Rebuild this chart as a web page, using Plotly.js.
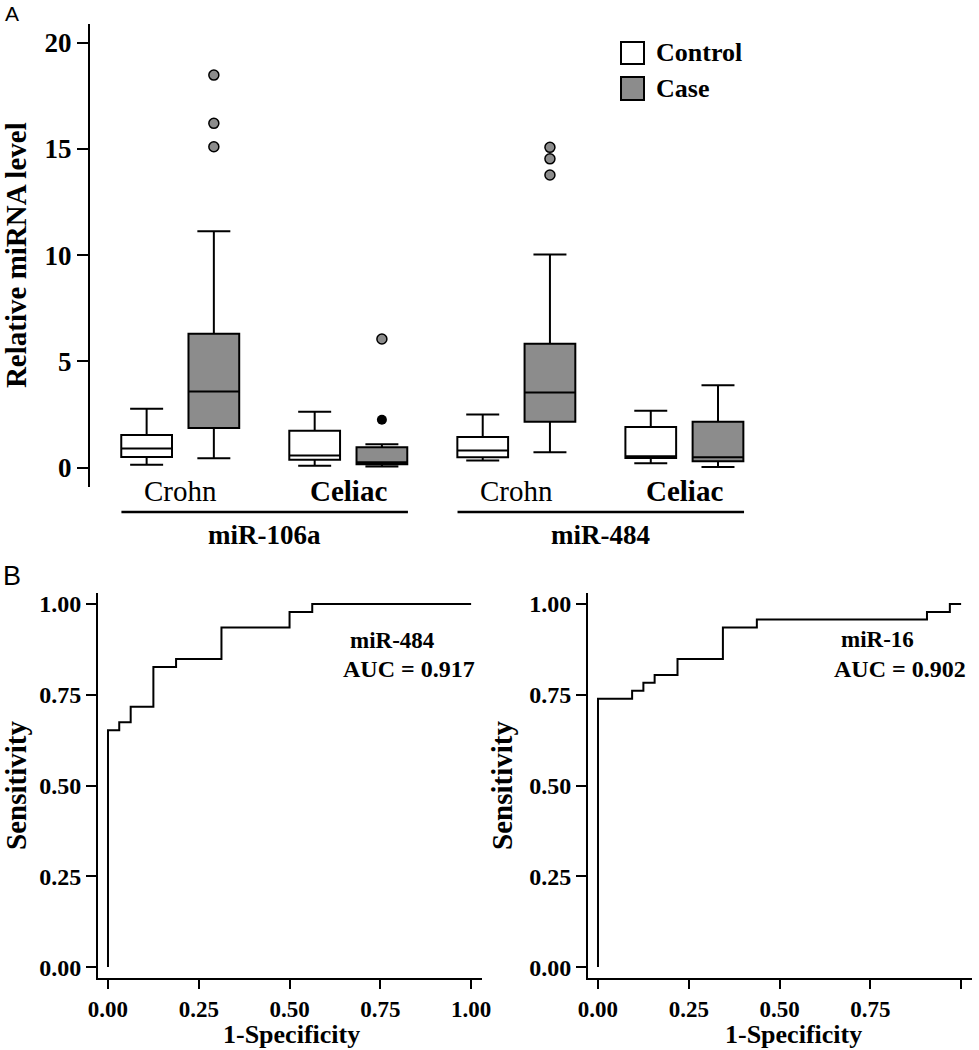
<!DOCTYPE html>
<html>
<head>
<meta charset="utf-8">
<script src="https://cdn.plot.ly/plotly-3.0.1.min.js"></script>
<style>
  body { margin: 0; background: #fff; }
  #chart { width: 979px; height: 1050px; }
</style>
</head>
<body>
<div id="chart"></div>
<script>
// Panel A: box plot stats
const groupPos = [1, 2, 3, 4];
const groupNames = ['Crohn', 'Celiac', 'Crohn', 'Celiac'];
const mirNames = ['miR-106a', 'miR-484'];

const ctrlLo  = [0.13, 0.08, 0.33, 0.20];
const ctrlQ1  = [0.49, 0.37, 0.48, 0.45];
const ctrlMed = [0.89, 0.57, 0.80, 0.53];
const ctrlQ3  = [1.53, 1.73, 1.43, 1.91];
const ctrlHi  = [2.77, 2.62, 2.50, 2.67];

const caseLo  = [0.43, 0.05, 0.72, 0.02];
const caseQ1  = [1.86, 0.15, 2.15, 0.29];
const caseMed = [3.58, 0.25, 3.53, 0.48];
const caseQ3  = [6.30, 0.95, 5.82, 2.15];
const caseHi  = [11.12, 1.10, 10.03, 3.87];

// outliers of the Case boxes (group index, value)
const outGroup = [0, 0, 0, 1, 2, 2, 2];
const outValue = [18.47, 16.2, 15.1, 6.05, 15.07, 14.53, 13.77];
const extGroup = [1];
const extValue = [2.25];

// Panel B: ROC steps
const fpr484 = [0, 0, 0.031, 0.0625, 0.125, 0.1875, 0.3125, 0.5, 0.5625, 1.0];
const tpr484 = [0, 0.652, 0.674, 0.717, 0.826, 0.848, 0.935, 0.978, 1.0, 1.0];
const fpr16 = [0, 0, 0.094, 0.125, 0.156, 0.219, 0.344, 0.4375, 0.906, 0.969, 1.0];
const tpr16 = [0, 0.739, 0.761, 0.783, 0.804, 0.848, 0.935, 0.957, 0.978, 1.0, 1.0];

const W = 979, H = 1050;
const px = v => v / W;
const py = v => 1 - v / H;
const off = 0.2;
const grey = '#8c8c8c';
const serif = 'Liberation Serif, Times New Roman, serif';

function boxTrace(pos, lo, q1, med, q3, hi, fill) {
    return {
        type: 'box', x: pos, lowerfence: lo, q1: q1, median: med, q3: q3, upperfence: hi,
        width: 0.302, whiskerwidth: 0.65, boxpoints: false,
        fillcolor: fill, line: {color: '#000', width: 2},
        xaxis: 'x', yaxis: 'y', showlegend: false, hoverinfo: 'skip'
    };
}

const traces = [
    boxTrace(groupPos.map(p => p - off), ctrlLo, ctrlQ1, ctrlMed, ctrlQ3, ctrlHi, '#fff'),
    boxTrace(groupPos.map(p => p + off), caseLo, caseQ1, caseMed, caseQ3, caseHi, grey),
    {
        type: 'scatter', mode: 'markers',
        x: outGroup.map(i => groupPos[i] + off), y: outValue,
        marker: {size: 10, color: grey, line: {color: '#000', width: 1.5}},
        xaxis: 'x', yaxis: 'y', showlegend: false, hoverinfo: 'skip'
    },
    {
        type: 'scatter', mode: 'markers',
        x: extGroup.map(i => groupPos[i] + off), y: extValue,
        marker: {size: 10, color: '#000'},
        xaxis: 'x', yaxis: 'y', showlegend: false, hoverinfo: 'skip'
    },
    {
        type: 'scatter', mode: 'lines', x: fpr484, y: tpr484,
        line: {shape: 'hv', color: '#000', width: 2},
        xaxis: 'x2', yaxis: 'y2', showlegend: false, hoverinfo: 'skip'
    },
    {
        type: 'scatter', mode: 'lines', x: fpr16, y: tpr16,
        line: {shape: 'hv', color: '#000', width: 2},
        xaxis: 'x3', yaxis: 'y3', showlegend: false, hoverinfo: 'skip'
    }
];

const tickF = size => ({family: serif, size: size, color: '#000', weight: 'bold'});

function rocX(dom, anchor) {
    return {
        domain: dom, anchor: anchor, range: [-0.0275, 1.03],
        tickvals: [0, 0.25, 0.5, 0.75, 1], tickformat: '.2f',
        ticks: 'outside', ticklen: 9, tickwidth: 2, tickcolor: '#000',
        showline: true, linewidth: 2, linecolor: '#000',
        showgrid: false, zeroline: false, tickfont: tickF(23)
    };
}
function rocY(anchor) {
    return {
        domain: [py(978), py(593)], anchor: anchor, range: [-0.03, 1.03],
        tickvals: [0, 0.25, 0.5, 0.75, 1], tickformat: '.2f',
        ticks: 'outside', ticklen: 10, tickwidth: 2, tickcolor: '#000',
        showline: true, linewidth: 2, linecolor: '#000',
        showgrid: false, zeroline: false, tickfont: tickF(24),
        title: {text: 'Sensitivity', font: tickF(29), standoff: 8}
    };
}

const annotations = [
    {text: 'A', x: px(12), y: py(14), font: {family: 'Liberation Sans, Arial', size: 21, color: '#000'}},
    {text: 'B', x: px(12), y: py(576), font: {family: 'Liberation Sans, Arial', size: 27, color: '#000'}},
    {text: 'miR-484', x: px(392), y: py(640), font: tickF(23)},
    {text: 'AUC = 0.917', x: px(409), y: py(669), font: tickF(24)},
    {text: 'miR-16', x: px(877), y: py(639), font: tickF(23)},
    {text: 'AUC = 0.902', x: px(900), y: py(669), font: tickF(24)},
    {text: '1-Specificity', x: px(291), y: 0, yanchor: 'bottom', font: tickF(26), borderpad: 0},
    {text: '1-Specificity', x: px(793), y: 0, yanchor: 'bottom', font: tickF(26), borderpad: 0},
    {text: 'Control', x: px(654), y: py(53), xanchor: 'left', font: tickF(26)},
    {text: 'Case', x: px(654), y: py(88.5), xanchor: 'left', font: tickF(26)}
].map(a => Object.assign({xref: 'paper', yref: 'paper', showarrow: false, xanchor: 'center', yanchor: 'middle'}, a));

groupPos.forEach((p, i) => annotations.push({
    text: i % 2 ? '<b>' + groupNames[i] + '</b>' : groupNames[i],
    x: p, xref: 'x', y: py(491), yref: 'paper', showarrow: false, yanchor: 'middle',
    font: {family: serif, size: 29, color: '#000'}
}));
mirNames.forEach((m, i) => annotations.push({
    text: m, x: (groupPos[2 * i] + groupPos[2 * i + 1]) / 2, xref: 'x',
    y: py(535), yref: 'paper', showarrow: false, yanchor: 'middle', font: tickF(27)
}));

const shapes = [];
mirNames.forEach((m, i) => shapes.push({
    type: 'line', xref: 'x', yref: 'paper',
    x0: groupPos[2 * i] - off - 0.15, x1: groupPos[2 * i + 1] + off + 0.155,
    y0: py(512), y1: py(512), line: {color: '#000', width: 2.5}
}));
// legend squares
shapes.push({type: 'rect', xref: 'paper', yref: 'paper', x0: px(621), x1: px(644), y0: py(64), y1: py(42),
    fillcolor: '#fff', line: {color: '#000', width: 2}});
shapes.push({type: 'rect', xref: 'paper', yref: 'paper', x0: px(621), x1: px(644), y0: py(100), y1: py(77),
    fillcolor: grey, line: {color: '#000', width: 2}});

const layout = {
    width: W, height: H,
    margin: {l: 0, r: 0, t: 0, b: 0},
    paper_bgcolor: '#fff', plot_bgcolor: '#fff',
    showlegend: false,
    font: {family: serif, color: '#000'},
    xaxis: {domain: [px(90), px(760)], anchor: 'y', range: [0.463, 4.45], visible: false},
    yaxis: {
        domain: [py(486.7), py(23.7)], anchor: 'x', range: [-0.904, 20.89],
        tickvals: [0, 5, 10, 15, 20],
        ticks: 'outside', ticklen: 11, tickwidth: 2, tickcolor: '#000',
        showline: true, linewidth: 2, linecolor: '#000',
        showgrid: false, zeroline: false, tickfont: tickF(27),
        title: {text: 'Relative miRNA level', font: tickF(29), standoff: 14}
    },
    xaxis2: rocX([px(98), px(482)], 'y2'),
    yaxis2: rocY('x2'),
    xaxis3: rocX([px(588), px(972)], 'y3'),
    yaxis3: rocY('x3'),
    annotations: annotations,
    shapes: shapes
};

Plotly.newPlot('chart', traces, layout, {staticPlot: true});
</script>
</body>
</html>
